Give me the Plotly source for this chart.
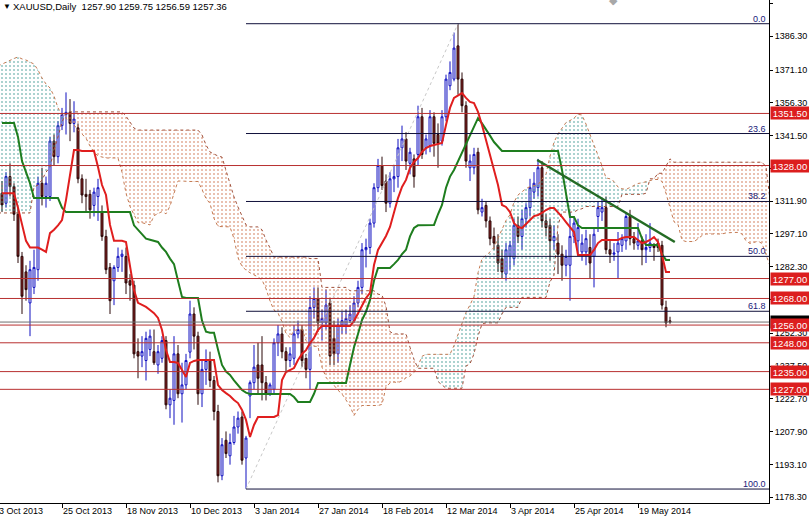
import plotly.graph_objects as go

# ---------------- data (bar index 1 = 4 Oct 2013, daily bars) ----------------
bars = list(range(1, 169))

opens = [1315.5, 1311, 1323, 1318.5, 1306, 1287, 1280, 1266, 1273, 1281,
         1320, 1314, 1314, 1339, 1332, 1346, 1351, 1352, 1347, 1345,
         1322, 1315, 1315, 1310, 1314, 1307, 1296, 1282, 1276, 1282,
         1287, 1287, 1276, 1274, 1244, 1242, 1240, 1245, 1244, 1238,
         1241, 1249, 1220, 1222, 1243, 1225, 1229, 1243.8, 1261, 1251,
         1225, 1236, 1240, 1231, 1217, 1188, 1204, 1197, 1203, 1210,
         1214.5, 1196, 1224, 1230, 1238, 1238, 1230, 1225, 1227, 1248,
         1252, 1244, 1240, 1241, 1252, 1254, 1241, 1236, 1264, 1268,
         1257, 1257, 1266, 1250, 1243, 1256, 1256, 1258, 1258, 1266,
         1273, 1290, 1291, 1302, 1318, 1328, 1321, 1311, 1322, 1323,
         1336, 1340, 1329, 1331, 1333, 1350, 1336, 1337, 1350, 1342,
         1339, 1350, 1364, 1367, 1382, 1367, 1355, 1327, 1327, 1334,
         1307, 1310, 1303, 1296, 1292, 1286, 1279, 1287, 1286, 1301,
         1296, 1304, 1309, 1316, 1318, 1327, 1303, 1301, 1294, 1293,
         1288, 1283, 1283, 1296, 1294, 1289, 1289, 1291, 1287, 1305,
         1307, 1309, 1290, 1288, 1289, 1292, 1294, 1305, 1295, 1292,
         1294, 1290, 1291, 1292, 1293, 1292, 1264, 1257.90]
highs = [1321, 1325, 1329, 1320, 1309, 1289, 1283, 1285, 1290, 1323,
         1327, 1323, 1341, 1342, 1348, 1354, 1361, 1358, 1357, 1347,
         1324, 1322, 1317, 1318, 1322, 1310, 1299, 1284, 1283, 1291,
         1290, 1291, 1279, 1276, 1250, 1251, 1253, 1254, 1254, 1247,
         1251, 1251, 1227, 1251, 1247, 1239, 1243, 1267, 1264, 1253,
         1240, 1245, 1244, 1233, 1220, 1205, 1208, 1207, 1215, 1217,
         1217, 1206, 1231, 1247, 1248, 1251, 1233, 1230, 1250, 1256,
         1255, 1246, 1246, 1256, 1258, 1256, 1243, 1269, 1273, 1273,
         1263, 1272, 1268, 1258, 1259, 1262, 1263, 1265, 1269, 1276,
         1293, 1295, 1304, 1320, 1331, 1332, 1324, 1325, 1328, 1340,
         1346, 1343, 1336, 1333, 1355, 1354, 1342, 1353, 1352, 1347,
         1353, 1369, 1375, 1388, 1392, 1370, 1357, 1333, 1336, 1336,
         1313, 1312, 1305, 1300, 1297, 1290, 1293, 1294, 1304, 1305,
         1308, 1311, 1322, 1325, 1331, 1330, 1306, 1304, 1301, 1297,
         1292, 1290, 1307, 1305, 1304, 1297, 1299, 1297, 1300, 1312,
         1313, 1314, 1294, 1293, 1298, 1297, 1307, 1308, 1298, 1302,
         1296, 1297, 1302, 1293, 1295, 1294, 1267, 1259.75]
lows = [1307, 1309, 1314, 1303, 1284, 1261, 1267, 1251, 1270, 1276,
        1310, 1309, 1312, 1328, 1329, 1344, 1342, 1339, 1343, 1320,
        1311, 1307, 1304, 1305, 1303, 1294, 1279, 1261, 1265, 1280,
        1280, 1270, 1267, 1241, 1232, 1237, 1231, 1242, 1238, 1234,
        1239, 1218, 1214, 1211, 1223, 1212, 1227, 1241, 1245, 1220,
        1219, 1229, 1228, 1213, 1185, 1186, 1196, 1193, 1202, 1207,
        1193, 1182, 1214, 1227, 1225, 1222, 1222, 1224, 1225, 1242,
        1241, 1235, 1237, 1238, 1250, 1237, 1232, 1227, 1259, 1253,
        1249, 1254, 1238, 1238, 1239, 1252, 1252, 1257, 1257, 1264,
        1270, 1282, 1288, 1300, 1316, 1317, 1307, 1309, 1316, 1318,
        1330, 1326, 1324, 1318, 1328, 1331, 1333, 1334, 1332, 1327,
        1337, 1348, 1362, 1366, 1360, 1352, 1327, 1321, 1324, 1306,
        1305, 1300, 1292, 1290, 1280, 1277, 1276, 1281, 1283, 1293,
        1290, 1300, 1305, 1313, 1314, 1300, 1296, 1285, 1290, 1279,
        1276, 1278, 1267, 1293, 1288, 1285, 1283, 1277, 1273, 1298,
        1303, 1288, 1284, 1285, 1277, 1289, 1290, 1292, 1290, 1290,
        1283, 1284, 1289, 1285, 1289, 1263, 1255, 1256.59]
closes = [1310.2, 1323, 1318.5, 1306, 1287, 1269, 1272, 1281, 1282, 1320,
          1314, 1320, 1339, 1332, 1346, 1351, 1352, 1347, 1349, 1322,
          1314.7, 1314, 1308, 1316, 1318, 1296, 1281, 1267, 1282, 1287,
          1288, 1275, 1274, 1243, 1242, 1244, 1250, 1251, 1239, 1244,
          1249, 1220, 1223, 1243, 1225, 1229, 1240, 1261, 1251, 1225,
          1236, 1240, 1231, 1217, 1188, 1202, 1198, 1203, 1210, 1214,
          1195, 1205, 1230, 1237, 1232, 1230, 1225, 1229, 1248, 1252,
          1244, 1240, 1243, 1252, 1254, 1240, 1236, 1264, 1268, 1257,
          1259, 1265, 1242, 1243, 1256, 1258, 1259, 1261, 1266, 1273,
          1290, 1291, 1302, 1318, 1328, 1319, 1311, 1322, 1323, 1336,
          1340, 1330, 1334, 1323, 1350, 1333, 1340, 1350, 1338, 1338,
          1350, 1367, 1370, 1381, 1367, 1355, 1330, 1330, 1333, 1308,
          1309, 1303, 1295, 1293, 1284, 1280, 1290, 1292, 1301, 1296,
          1304, 1309, 1318, 1320, 1327, 1303, 1300, 1294, 1296, 1288,
          1283, 1287, 1296, 1302, 1300, 1293, 1295, 1284, 1297, 1309,
          1309, 1290, 1288, 1288.5, 1293, 1295, 1305, 1295, 1293, 1294,
          1290, 1291, 1293, 1291, 1291, 1265, 1257, 1257.36]

tenkan = [1315.5, 1315.5, 1315.5, 1315.5, 1309, 1301, 1294, 1291, 1291, 1291,
          1290, 1289, 1297.5, 1299, 1301, 1303.4, 1312.4, 1323.7, 1335, 1335,
          1334.6, 1334.6, 1334.6, 1334.6, 1327.3, 1319.2, 1314.7, 1301.2, 1294, 1294,
          1294, 1293.5, 1283.1, 1271.8, 1266, 1265, 1264.2, 1262.8, 1261.4, 1259.2,
          1253.8, 1244.7, 1239.3, 1239.3, 1238.9, 1235.7, 1232.6, 1238.9, 1239.8, 1240.2,
          1240.2, 1240.2, 1240.2, 1240.2, 1228.9, 1226.7, 1225.3, 1224, 1222.2, 1220.8,
          1217.7, 1213.2, 1205.5, 1210.9, 1214.5, 1214.5, 1214.5, 1214.5, 1214.5, 1215.4,
          1231.2, 1234.8, 1235.7, 1236.6, 1240.2, 1243, 1244.7, 1247.9, 1250.2, 1253.8,
          1255.6, 1255.6, 1255.6, 1255.6, 1255.6, 1255.6, 1255.6, 1255.6, 1257.8, 1261.4,
          1265, 1268.2, 1270.5, 1283.1, 1289.9, 1293, 1296.2, 1300.3, 1307, 1313.3,
          1318.3, 1321.5, 1326.9, 1329.6, 1331.4, 1334.1, 1335.9, 1336.8, 1337.3, 1337.7,
          1338.2, 1346.3, 1354, 1358.5, 1359.8, 1360.7, 1358.5, 1356.7, 1356.2, 1352.2,
          1346.3, 1339.5, 1332.7, 1326.9, 1319.2, 1310.2, 1309.3, 1307, 1302, 1300.3,
          1299.8, 1301.6, 1303.4, 1305.2, 1305.7, 1306.6, 1307.9, 1308.8, 1308.8, 1307,
          1304.8, 1302.5, 1300.3, 1298, 1287.6, 1287.6, 1287.6, 1287.6, 1289.9, 1293,
          1294.4, 1294.4, 1294.4, 1294.4, 1294.4, 1295.3, 1295.7, 1295.7, 1295.7, 1294.4,
          1293, 1293.5, 1294.4, 1295.7, 1293.5, 1287.6, 1279.9, 1279.9]

kijun = [1347.2, 1347.2, 1347.2, 1347.2, 1340.9, 1330, 1325, 1320, 1313.3, 1313.3,
         1313.3, 1313.3, 1313.3, 1313.3, 1313.3, 1309, 1307, 1307, 1307, 1307,
         1307, 1307, 1307, 1307, 1307, 1307, 1307, 1307, 1307, 1307,
         1307, 1307, 1307, 1301, 1299, 1296.5, 1295, 1294.5, 1294, 1293.5,
         1291, 1289, 1286, 1283.5, 1276, 1268.7, 1268.2, 1268.2, 1268.2, 1268.2,
         1258, 1253, 1252.5, 1252.5, 1245, 1238, 1235, 1233.5, 1231, 1229,
         1226.7, 1225.5, 1224.9, 1224.9, 1224.9, 1224.9, 1224.9, 1224.9, 1224.9, 1224.9,
         1224.9, 1224.9, 1224.9, 1223.5, 1221.3, 1221.3, 1221.3, 1221.3, 1225, 1229.9,
         1229.9, 1229.9, 1229.9, 1229.9, 1229.9, 1229.9, 1229.9, 1238, 1246, 1252,
         1258.3, 1262, 1267.3, 1276, 1281.8, 1281.8, 1281.8, 1281.8, 1283.5, 1285.4,
         1288, 1290, 1296, 1299.8, 1301, 1301, 1301, 1301, 1301.2, 1306,
         1310.2, 1318, 1323, 1326, 1330, 1334.1, 1338, 1342, 1346, 1349.4,
         1347, 1344.5, 1341.5, 1338.6, 1336.5, 1334.6, 1334.6, 1334.6, 1334.6, 1334.6,
         1334.6, 1334.6, 1334.6, 1334.6, 1334.6, 1334.6, 1334.6, 1334.6, 1334.6, 1334.6,
         1326, 1316, 1304.8, 1304.8, 1301, 1299.8, 1299.8, 1299.8, 1299.8, 1299.8,
         1299.8, 1299.8, 1299.8, 1299.8, 1299.8, 1299.8, 1299.8, 1299.8, 1299.8, 1299.8,
         1295, 1292.1, 1292.1, 1292.1, 1292.1, 1288, 1285.4, 1285.4]

# Ichimoku cloud, bar index 0 .. 194 (projected 26 bars ahead)
span_bars = list(range(0, 195))
span_a = [1372.9, 1373.8, 1374.7, 1375.6, 1376.3, 1377.0, 1376.1, 1375.6, 1374.7, 1373.8,
          1371.1, 1367.5, 1364.8, 1363.0, 1359.4, 1354.0, 1350.8, 1349.4, 1348.1, 1346.3,
          1344.0, 1342.2, 1340.4, 1336.8, 1334.1, 1332.3, 1331.8, 1331.4, 1331.4, 1331.4,
          1331.4, 1325.0, 1315.5, 1309.5, 1305.5, 1302.2, 1302.2, 1301.7, 1301.2, 1305.4,
          1306.2, 1307.2, 1306.2, 1309.7, 1315.4, 1321.0, 1321.0, 1320.8, 1320.8, 1320.8,
          1320.8, 1317.2, 1313.1, 1310.9, 1304.1, 1300.5, 1300.5, 1300.5, 1300.3, 1295.0,
          1286.4, 1282.5, 1280.8, 1279.6, 1278.7, 1277.7, 1276.4, 1272.4, 1266.9, 1262.7,
          1261.4, 1257.5, 1252.2, 1250.4, 1253.6, 1254.0, 1254.2, 1249.1, 1246.6, 1246.4,
          1246.4, 1237.0, 1232.4, 1230.2, 1228.8, 1226.6, 1224.9, 1222.2, 1219.4, 1215.2,
          1217.9, 1219.7, 1219.7, 1219.7, 1219.7, 1219.7, 1220.2, 1228.0, 1229.9, 1230.3,
          1230.0, 1230.8, 1232.2, 1233.0, 1234.6, 1237.6, 1241.9, 1242.8, 1242.8, 1242.8,
          1242.8, 1242.8, 1242.8, 1242.8, 1246.8, 1251.9, 1256.7, 1261.7, 1265.1, 1268.9,
          1279.6, 1285.9, 1287.4, 1289.0, 1291.1, 1295.3, 1299.4, 1303.2, 1305.8, 1311.5,
          1314.7, 1316.2, 1317.6, 1318.5, 1318.9, 1319.3, 1321.9, 1324.2, 1332.2, 1338.5,
          1342.3, 1344.9, 1347.4, 1348.3, 1349.4, 1351.1, 1350.8, 1346.7, 1342.0, 1337.1,
          1332.8, 1327.9, 1322.4, 1322.0, 1320.8, 1318.3, 1317.5, 1317.2, 1318.1, 1319.0,
          1319.9, 1320.2, 1320.6, 1321.3, 1321.7, 1321.7, 1320.8, 1315.4, 1309.3, 1302.6,
          1301.4, 1294.3, 1293.7, 1293.7, 1293.7, 1294.9, 1296.4, 1297.1, 1297.1, 1297.1,
          1297.1, 1297.1, 1297.6, 1297.8, 1297.8, 1297.8, 1297.1, 1294.0, 1292.8, 1293.3,
          1293.9, 1292.8, 1287.8, 1282.7, 1282.7]
span_b = [1306.6, 1306.6, 1306.6, 1306.6, 1306.6, 1306.6, 1306.6, 1306.6, 1306.6, 1318.3,
          1319.2, 1321.5, 1325.0, 1327.3, 1335.0, 1340.9, 1347.6, 1351.7, 1352.2, 1352.2,
          1352.2, 1352.2, 1352.2, 1352.2, 1352.2, 1352.2, 1352.2, 1352.2, 1352.2, 1352.2,
          1352.2, 1352.2, 1350.3, 1347.6, 1344.9, 1344.0, 1344.0, 1344.0, 1344.0, 1344.0,
          1344.0, 1344.0, 1344.0, 1344.0, 1344.0, 1344.0, 1344.0, 1344.0, 1344.0, 1344.0,
          1344.0, 1341.8, 1337.3, 1334.1, 1333.2, 1332.3, 1331.8, 1326.0, 1319.2, 1313.8,
          1309.3, 1304.8, 1301.2, 1300.3, 1300.3, 1300.3, 1299.0, 1294.4, 1290.8, 1286.7,
          1286.7, 1286.7, 1286.7, 1286.7, 1286.7, 1286.7, 1286.7, 1286.7, 1286.0, 1286.0,
          1286.0, 1273.0, 1273.0, 1273.0, 1273.0, 1273.0, 1273.0, 1273.0, 1271.5, 1271.5,
          1271.5, 1271.5, 1271.5, 1271.5, 1271.5, 1270.0, 1269.5, 1264.5, 1253.0, 1252.0,
          1252.0, 1252.0, 1252.0, 1246.0, 1240.5, 1236.5, 1236.5, 1236.5, 1236.5, 1236.5,
          1230.5, 1229.0, 1227.5, 1227.5, 1227.5, 1227.5, 1227.5, 1237.5, 1238.5, 1243.0,
          1251.0, 1256.5, 1257.0, 1257.0, 1257.0, 1257.0, 1261.0, 1264.0, 1264.0, 1264.0,
          1264.0, 1268.5, 1268.5, 1268.5, 1268.5, 1268.5, 1268.5, 1268.5, 1275.5, 1278.5,
          1301.0, 1307.0, 1307.0, 1307.0, 1307.0, 1308.0, 1308.5, 1309.5, 1309.5, 1309.5,
          1309.5, 1309.5, 1309.5, 1309.5, 1309.5, 1309.5, 1315.0, 1315.0, 1315.0, 1315.0,
          1315.0, 1315.0, 1315.5, 1322.0, 1322.0, 1324.5, 1324.5, 1328.0, 1331.0, 1329.5,
          1329.5, 1329.5, 1329.5, 1329.5, 1329.5, 1329.5, 1329.5, 1329.5, 1329.5, 1329.5,
          1329.5, 1329.5, 1329.5, 1329.5, 1329.5, 1329.5, 1329.5, 1329.5, 1329.5, 1329.5,
          1329.5, 1329.5, 1327.5, 1312.5, 1306.0]

date_tick_bars = [0, 16, 32, 48, 64, 80, 96, 112, 128, 144, 160]
date_tick_labels = ["3 Oct 2013", "25 Oct 2013", "18 Nov 2013", "10 Dec 2013", "3 Jan 2014",
                    "27 Jan 2014", "18 Feb 2014", "12 Mar 2014", "3 Apr 2014", "25 Apr 2014",
                    "19 May 2014"]

price_ticks = [1401.10, 1386.30, 1371.10, 1356.30, 1341.50, 1326.70, 1311.90, 1297.10,
               1282.30, 1267.50, 1252.30, 1237.50, 1222.70, 1207.90, 1193.10, 1178.30]
# tick labels fully covered by a level box in the reference are left blank
hidden_tick_labels = [1326.70, 1267.50]

sr_levels = [1351.50, 1328.00, 1277.00, 1268.00, 1256.00, 1248.00, 1235.00, 1227.00]
fib_ratios = [0.0, 23.6, 38.2, 50.0, 61.8, 100.0]
trend_bars = [134.8, 169.2]
trend_prices = [1330.5, 1293.5]
symbol_title = "XAUUSD,Daily"

X_RANGE = [0.5, 192.75]
Y_RANGE = [1175.7, 1402.7]
FONT = "Liberation Sans, Arial, sans-serif"

fig = go.Figure()

# ---- cloud: split into bullish / bearish runs ----
TEAL = "#2e8f88"
ORANGE = "#c9643a"
runs = []
start = 0
for k in range(1, len(span_bars) + 1):
    if k == len(span_bars) or ((span_a[k] >= span_b[k]) != (span_a[start] >= span_b[start])):
        runs.append((start, k - 1))
        start = k
for s, e in runs:
    e2 = min(e + 1, len(span_bars) - 1)
    idx = list(range(s, e2 + 1))
    xs = [span_bars[i] for i in idx]
    bull = span_a[s] >= span_b[s]
    fig.add_trace(go.Scatter(
        x=xs + xs[::-1],
        y=[span_a[i] for i in idx] + [span_b[i] for i in idx][::-1],
        fill="toself", mode="lines", line=dict(width=0),
        fillcolor="rgba(0,0,0,0)",
        fillpattern=dict(shape=".", fgcolor=TEAL if bull else ORANGE,
                         bgcolor="rgba(0,0,0,0)", size=4, solidity=0.22),
        hoverinfo="skip"))

fig.add_trace(go.Scatter(x=span_bars, y=span_a, mode="lines",
                         line=dict(color="#c47a52", width=1, dash="dot"), hoverinfo="skip"))
fig.add_trace(go.Scatter(x=span_bars, y=span_b, mode="lines",
                         line=dict(color="#a0503a", width=1, dash="dot"), hoverinfo="skip"))

# ---- fibonacci anchors from the data ----
lo_i = min(range(len(lows)), key=lambda i: lows[i])
hi_i = max(range(len(highs)), key=lambda i: highs[i])
fib_low = lows[lo_i]
fib_high = highs[hi_i]
fig.add_trace(go.Scatter(x=[bars[lo_i], bars[hi_i]], y=[fib_low, fib_high], mode="lines",
                         line=dict(color="#c8c8c8", width=1, dash="dot"), hoverinfo="skip"))

# ---- candles ----
fig.add_trace(go.Candlestick(
    x=bars, open=opens, high=highs, low=lows, close=closes,
    increasing=dict(line=dict(color="#1010c0", width=1), fillcolor="#ffffff"),
    decreasing=dict(line=dict(color="#2a0808", width=1), fillcolor="#8a2222"),
    whiskerwidth=0, hoverinfo="skip"))

# ---- ichimoku lines ----
fig.add_trace(go.Scatter(x=bars, y=kijun, mode="lines",
                         line=dict(color="#1e7d1e", width=2), hoverinfo="skip"))
fig.add_trace(go.Scatter(x=bars, y=tenkan, mode="lines",
                         line=dict(color="#e01e1e", width=2), hoverinfo="skip"))
fig.add_trace(go.Scatter(x=trend_bars, y=trend_prices, mode="lines",
                         line=dict(color="#246b24", width=2.5), hoverinfo="skip"))

shapes = []
for lv in sr_levels:
    shapes.append(dict(type="line", xref="x", yref="y", x0=X_RANGE[0] - 5, x1=X_RANGE[1] + 5,
                       y0=lv, y1=lv, line=dict(color="#b83030", width=1), layer="above"))
shapes.append(dict(type="line", xref="x", yref="y", x0=X_RANGE[0] - 5, x1=X_RANGE[1] + 5,
                   y0=closes[-1], y1=closes[-1], line=dict(color="#707070", width=1), layer="above"))
fib_prices = [fib_high - r / 100.0 * (fib_high - fib_low) for r in fib_ratios]
for fp in fib_prices:
    shapes.append(dict(type="line", xref="x", yref="y", x0=bars[lo_i], x1=X_RANGE[1] + 5,
                       y0=fp, y1=fp, line=dict(color="#10103a", width=1), layer="above"))

ann = []
# header
ann.append(dict(xref="paper", yref="paper", x=0, y=1, xanchor="left", yanchor="top",
                xshift=1, yshift=0, text="▼", showarrow=False,
                font=dict(size=8, color="#000000", family=FONT)))
ohlc_txt = " ".join(f"{v:.2f}" for v in (opens[-1], highs[-1], lows[-1], closes[-1]))
ann.append(dict(xref="paper", yref="paper", x=0, y=1, xanchor="left", yanchor="top",
                xshift=11, yshift=1, text=symbol_title + "&nbsp;&nbsp;" + ohlc_txt,
                showarrow=False, font=dict(size=9.5, color="#000000", family=FONT)))
# chart shift marker
ann.append(dict(xref="paper", yref="paper", x=613 / 769, y=1, xanchor="center", yanchor="middle",
                text="◆", showarrow=False, font=dict(size=11, color="#a8a8a8", family=FONT)))

# date labels
for b, lab in zip(date_tick_bars, date_tick_labels):
    frac = (b - X_RANGE[0]) / (X_RANGE[1] - X_RANGE[0])
    ann.append(dict(xref="paper", yref="paper", x=frac, y=0, xanchor="left", yanchor="top",
                    yshift=-1, xshift=-1, text=lab, showarrow=False,
                    font=dict(size=9, color="#000000", family=FONT)))

# fib labels
for r, fp in zip(fib_ratios, fib_prices):
    ann.append(dict(xref="paper", yref="y", x=1, y=fp, xanchor="right", yanchor="bottom",
                    xshift=-1, yshift=-2, text=f"{r:.1f}", showarrow=False,
                    font=dict(size=9, color="#20207a", family=FONT)))

# current price box (drawn first), then red level boxes
ann.append(dict(xref="paper", yref="y", x=1, y=closes[-1], xanchor="left", yanchor="middle",
                xshift=1, text=f"{closes[-1]:.2f}", showarrow=False, bgcolor="#000000",
                width=36, height=10, borderpad=1,
                font=dict(size=9.5, color="#ffffff", family=FONT)))
for lv in sr_levels:
    ann.append(dict(xref="paper", yref="y", x=1, y=lv, xanchor="left", yanchor="middle",
                    xshift=1, text=f"{lv:.2f}", showarrow=False, bgcolor="#dc1e1e",
                    width=36, height=10, borderpad=1,
                    font=dict(size=9.5, color="#ffffff", family=FONT)))

fig.update_layout(
    width=809, height=518,
    margin=dict(l=0, r=40, t=0, b=15),
    paper_bgcolor="#ffffff", plot_bgcolor="#ffffff",
    showlegend=False,
    shapes=shapes, annotations=ann,
    xaxis=dict(range=X_RANGE, showgrid=False, zeroline=False, showline=True,
               linecolor="#000000", linewidth=1, ticks="outside", ticklen=4,
               tickcolor="#000000", tickvals=date_tick_bars, showticklabels=False,
               rangeslider=dict(visible=False), automargin=False, fixedrange=True),
    yaxis=dict(range=Y_RANGE, side="right", showgrid=False, zeroline=False, showline=True,
               linecolor="#000000", linewidth=1, ticks="outside", ticklen=3,
               tickcolor="#000000", tickvals=price_ticks,
               ticktext=["" if v in hidden_tick_labels else f"{v:.2f}" for v in price_ticks],
               tickfont=dict(size=9, color="#000000", family=FONT),
               automargin=False, fixedrange=True),
)

fig.write_html("out.html", config={"displayModeBar": False},
               post_script="document.body.style.margin='0px';")
